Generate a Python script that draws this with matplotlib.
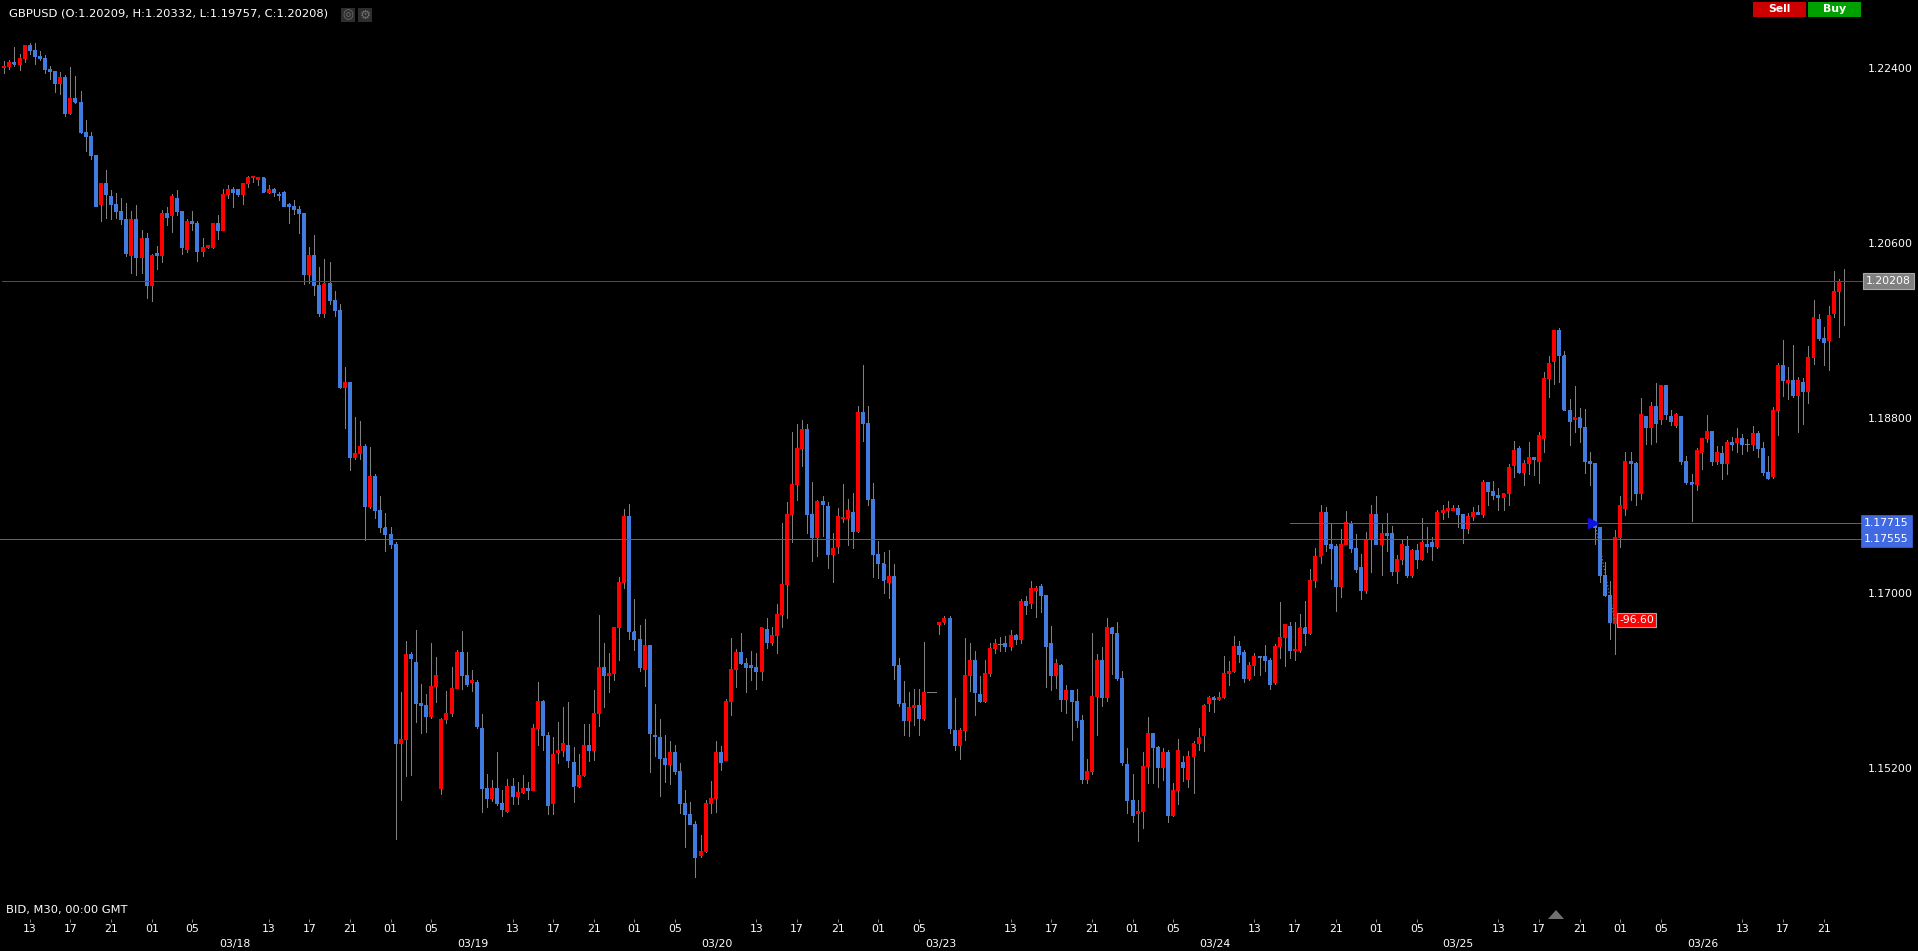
import matplotlib
matplotlib.use("Agg")
import matplotlib.pyplot as plt
import numpy as np
from matplotlib.patches import Rectangle, Polygon
from matplotlib.collections import PolyCollection

# OHLC of GBPUSD M30, in units of 1e-4
opens = [
12240,12242,12246,12244,12250,12263,12258,12252,12250,12238,
12236,12224,12230,12193,12209,12205,12174,12170,12150,12100,
12121,12108,12100,12092,12084,12047,12084,12045,12065,12016,
12049,12047,12090,12088,12106,12092,12053,12082,12080,12051,
12055,12055,12080,12073,12110,12115,12115,12110,12121,12127,
12125,12127,12112,12115,12110,12112,12100,12098,12094,12090,
12028,12047,12016,11987,12018,12001,11991,11911,11917,11839,
11843,11851,11789,11820,11785,11767,11760,11750,11545,11549,
11637,11629,11586,11584,11573,11604,11499,11570,11576,11602,
11639,11615,11608,11608,11561,11499,11489,11499,11483,11475,
11501,11491,11495,11499,11497,11561,11588,11553,11483,11536,
11538,11543,11526,11501,11512,11543,11538,11576,11623,11615,
11617,11664,11711,11779,11660,11652,11621,11646,11553,11551,
11530,11524,11536,11516,11483,11472,11462,11430,11434,11483,
11489,11536,11528,11588,11621,11639,11627,11625,11623,11619,
11662,11649,11656,11678,11709,11781,11812,11849,11868,11781,
11757,11794,11789,11740,11748,11777,11777,11783,11763,11886,
11874,11796,11740,11730,11711,11717,11625,11586,11569,11582,
11584,11571,11598,11598,11668,11670,11674,11559,11543,11559,
11615,11631,11596,11588,11617,11643,11648,11648,11645,11656,
11652,11691,11689,11703,11707,11697,11648,11615,11625,11590,
11600,11588,11569,11508,11516,11594,11631,11592,11664,11658,
11612,11524,11487,11473,11475,11522,11555,11541,11520,11536,
11471,11497,11526,11508,11532,11545,11553,11586,11592,11590,
11592,11617,11619,11645,11639,11612,11625,11635,11635,11631,
11608,11645,11654,11666,11641,11641,11664,11658,11713,11738,
11783,11750,11748,11707,11750,11771,11746,11726,11703,11755,
11781,11750,11761,11761,11722,11734,11748,11718,11744,11734,
11750,11752,11748,11783,11785,11785,11787,11781,11766,11779,
11783,11781,11814,11804,11800,11798,11802,11831,11849,11824,
11833,11839,11835,11859,11921,11938,11970,11944,11888,11878,
11880,11870,11835,11833,11767,11718,11697,11669,11757,11787,
11835,11833,11802,11882,11870,11892,11878,11913,11882,11872,
11882,11835,11814,11812,11845,11859,11866,11835,11843,11833,
11855,11855,11859,11853,11853,11864,11849,11824,11820,11888,
11934,11917,11919,11903,11917,11907,11942,11981,11962,11960,
11987,12010,12020.9]

highs = [
12247,12248,12262,12254,12263,12266,12266,12257,12253,12242,
12237,12236,12233,12241,12232,12216,12187,12174,12150,12122,
12135,12115,12111,12106,12101,12093,12099,12073,12070,12049,
12057,12094,12097,12110,12115,12092,12085,12093,12083,12065,
12058,12080,12089,12116,12120,12118,12116,12121,12129,12128,
12128,12128,12120,12117,12112,12113,12101,12104,12098,12090,
12056,12068,12035,12044,12040,12011,11997,11932,11917,11881,
11877,11853,11850,11822,11800,11782,11768,11752,11598,11651,
11639,11662,11606,11596,11649,11634,11571,11599,11624,11641,
11661,11639,11621,11611,11576,11514,11508,11536,11497,11509,
11510,11506,11513,11506,11565,11608,11590,11557,11552,11567,
11583,11588,11542,11534,11565,11565,11600,11677,11649,11638,
11664,11716,11786,11792,11694,11667,11673,11646,11586,11570,
11554,11548,11544,11525,11497,11485,11465,11451,11487,11507,
11548,11543,11591,11654,11642,11659,11633,11640,11638,11664,
11674,11665,11689,11772,11794,11866,11874,11878,11874,11814,
11796,11800,11794,11762,11787,11812,11797,11803,11892,11934,
11892,11813,11753,11742,11744,11730,11633,11609,11598,11601,
11601,11650,11598,11598,11670,11676,11676,11592,11561,11654,
11649,11640,11615,11631,11649,11653,11655,11656,11662,11658,
11694,11697,11712,11707,11709,11697,11666,11632,11627,11605,
11600,11601,11574,11529,11659,11637,11644,11674,11664,11670,
11620,11541,11514,11487,11536,11572,11555,11543,11541,11538,
11505,11550,11532,11537,11548,11561,11586,11594,11594,11598,
11635,11630,11656,11651,11641,11629,11638,11635,11647,11633,
11648,11691,11668,11670,11670,11678,11692,11725,11746,11790,
11788,11772,11750,11766,11784,11774,11761,11740,11763,11790,
11800,11772,11782,11769,11739,11754,11759,11745,11750,11777,
11768,11758,11785,11791,11795,11791,11791,11781,11782,11788,
11791,11816,11814,11815,11808,11802,11833,11856,11851,11837,
11855,11839,11866,11927,11944,11970,11973,11949,11900,11913,
11890,11889,11845,11833,11767,11732,11712,11765,11800,11845,
11845,11835,11901,11882,11896,11916,11913,11913,11888,11885,
11882,11841,11822,11849,11859,11883,11866,11851,11851,11857,
11860,11870,11864,11858,11872,11867,11855,11841,11891,11937,
11960,11932,11955,11922,11921,11954,12001,11987,11974,11995,
12031,12023,12033.2]

lows = [
12235,12239,12242,12238,12246,12254,12244,12248,12235,12229,
12215,12213,12191,12193,12204,12173,12155,12146,12098,12083,
12086,12085,12086,12080,12047,12029,12027,12029,12003,12000,
12033,12040,12078,12071,12089,12049,12051,12073,12041,12047,
12055,12055,12064,12073,12106,12097,12108,12100,12118,12123,
12120,12112,12111,12108,12104,12098,12081,12090,12070,12018,
12019,12007,11985,11984,11997,11985,11911,11870,11826,11838,
11838,11755,11787,11777,11763,11743,11746,11447,11487,11512,
11513,11567,11556,11557,11571,11588,11493,11566,11573,11602,
11601,11604,11599,11561,11475,11480,11486,11482,11471,11475,
11483,11483,11494,11488,11497,11544,11539,11473,11473,11525,
11532,11521,11485,11500,11512,11527,11528,11563,11583,11598,
11611,11631,11705,11653,11641,11620,11604,11516,11532,11491,
11506,11504,11514,11474,11439,11462,11408,11428,11434,11474,
11475,11518,11528,11575,11603,11627,11598,11611,11601,11611,
11643,11646,11638,11665,11674,11752,11796,11831,11762,11733,
11738,11759,11726,11711,11741,11773,11749,11746,11763,11856,
11790,11716,11715,11700,11695,11612,11584,11554,11553,11564,
11554,11569,11598,11598,11658,11668,11556,11539,11529,11549,
11599,11574,11588,11588,11615,11638,11640,11640,11641,11648,
11649,11678,11685,11675,11680,11603,11600,11602,11579,11577,
11549,11562,11505,11505,11514,11554,11584,11589,11617,11611,
11523,11474,11464,11445,11458,11505,11505,11500,11508,11464,
11471,11483,11507,11500,11494,11539,11537,11579,11578,11590,
11592,11605,11619,11629,11608,11610,11616,11616,11620,11601,
11606,11633,11625,11633,11631,11639,11647,11658,11706,11731,
11743,11714,11681,11696,11750,11742,11722,11694,11700,11722,
11750,11719,11743,11719,11710,11730,11716,11716,11726,11734,
11742,11734,11746,11776,11778,11785,11768,11751,11762,11775,
11781,11778,11791,11797,11785,11785,11791,11819,11823,11811,
11822,11821,11813,11845,11902,11915,11917,11888,11852,11866,
11855,11823,11811,11750,11711,11697,11653,11637,11747,11780,
11796,11791,11797,11853,11853,11855,11874,11879,11873,11871,
11833,11812,11774,11806,11828,11855,11832,11833,11817,11822,
11847,11845,11843,11846,11847,11840,11821,11817,11818,11862,
11903,11900,11902,11866,11874,11895,11936,11960,11935,11929,
11984,11963,11975.7]

closes = [
12242,12246,12244,12250,12263,12258,12252,12250,12238,12236,
12224,12230,12193,12209,12205,12174,12170,12150,12098,12121,
12110,12100,12092,12084,12049,12084,12045,12065,12016,12047,
12047,12090,12086,12108,12092,12055,12082,12080,12051,12055,
12057,12080,12073,12110,12115,12112,12110,12121,12127,12128,
12127,12112,12115,12112,12109,12098,12098,12094,12090,12028,
12047,12016,11987,12018,12001,11991,11911,11917,11839,11843,
11851,11789,11820,11785,11767,11760,11750,11545,11549,11637,
11633,11586,11584,11573,11604,11615,11570,11576,11602,11639,
11615,11606,11610,11563,11499,11489,11499,11483,11477,11501,
11491,11495,11499,11497,11561,11588,11553,11481,11534,11538,
11545,11528,11501,11512,11543,11538,11576,11623,11615,11617,
11664,11711,11779,11660,11652,11623,11646,11555,11552,11530,
11524,11536,11516,11483,11472,11462,11428,11434,11483,11489,
11536,11526,11588,11621,11639,11627,11623,11623,11619,11664,
11649,11656,11678,11709,11781,11812,11849,11868,11781,11757,
11794,11791,11740,11746,11779,11778,11785,11763,11886,11874,
11796,11740,11730,11713,11717,11625,11586,11569,11582,11584,
11571,11598,11598,11598,11670,11674,11561,11543,11559,11615,
11631,11598,11588,11617,11643,11648,11648,11645,11656,11652,
11691,11687,11705,11705,11697,11645,11615,11627,11590,11600,
11588,11569,11508,11516,11594,11631,11592,11664,11658,11612,
11526,11487,11471,11475,11522,11555,11541,11520,11536,11471,
11497,11538,11520,11532,11545,11551,11584,11592,11590,11592,
11617,11619,11645,11637,11612,11625,11635,11634,11631,11606,
11645,11654,11668,11641,11642,11664,11658,11713,11738,11783,
11750,11746,11707,11750,11773,11746,11724,11703,11755,11781,
11750,11761,11759,11722,11734,11750,11718,11744,11734,11752,
11748,11748,11783,11785,11787,11787,11781,11766,11779,11783,
11781,11814,11804,11800,11798,11802,11829,11847,11824,11833,
11839,11837,11862,11921,11936,11970,11944,11888,11876,11880,
11870,11835,11833,11767,11718,11697,11670,11757,11790,11835,
11833,11802,11884,11870,11892,11874,11913,11884,11876,11884,
11835,11814,11812,11847,11859,11866,11835,11845,11833,11855,
11853,11859,11853,11853,11864,11849,11824,11818,11888,11934,
11919,11919,11903,11919,11907,11942,11983,11962,11958,11985,
12010,12020,12020.8]

hour_ticks = [5,13,21,29,37,52,60,68,76,84,100,108,116,124,132,148,156,164,172,180,
              198,206,214,222,230,246,254,262,270,278,294,302,310,318,326,342,350,358]
hour_labels = ["13","17","21","01","05","13","17","21","01","05","13","17","21","01","05",
               "13","17","21","01","05","13","17","21","01","05","13","17","21","01","05",
               "13","17","21","01","05","13","17","21"]
date_ticks = [45.3,92.2,140.3,184.3,238.3,286,334.3]
date_labels = ["03/18","03/19","03/20","03/23","03/24","03/25","03/26"]
price_ticks = [1.152,1.170,1.188,1.206,1.224]
bid_line = 1.20208
order_lines = [1.17555,1.17715]

W,H = 1918,951
BG="#000000"; RED="#FF0000"; BLUE="#417BE0"; WICK="#808080"; LINE_BLUE="#3A62D8"; FG="#FFFFFF"
FONT=7.8
plt.rcParams['font.family']=['DejaVu Sans']

O,Hi,Lo,C = [np.array(a)/1e4 for a in (opens,highs,lows,closes)]
idx = np.arange(len(O))

fig = plt.figure(figsize=(W/100,H/100),dpi=100,facecolor=BG)
ax = fig.add_axes([0,1-919/H,1863/W,919/H],facecolor=BG)
for s in ax.spines.values(): s.set_visible(False)
ax.set_xlim(-0.852,365.74)
ax.set_ylim(1.136467,1.230994)

ax.vlines(idx,Lo,Hi,color=WICK,lw=0.72,zorder=2,antialiased=False,snap=True)

def bodies(mask,color):
    half = 1.5/5.082
    verts = [[(i-half,b),(i+half,b),(i+half,t),(i-half,t)]
             for i,b,t in zip(idx[mask],np.minimum(O,C)[mask],np.maximum(O,C)[mask])]
    ax.add_collection(PolyCollection(verts,facecolors=color,edgecolors='none',linewidths=0,
                                     antialiaseds=False,zorder=3,snap=False))
bodies(C>O,RED)
bodies(C<O,BLUE)
flat = C==O
ax.hlines(C[flat],idx[flat]-0.4,idx[flat]+0.4,color=WICK,lw=0.72,zorder=3,antialiased=False,snap=True)

ax.set_xticks(hour_ticks); ax.set_xticklabels(hour_labels)
ax.set_xticks(date_ticks,minor=True); ax.set_xticklabels(date_labels,minor=True)
ax.tick_params(axis='x',which='major',length=2.2,width=0.7,color='#808080',labelcolor=FG,labelsize=FONT,pad=1.5)
ax.tick_params(axis='x',which='minor',length=0,labelcolor=FG,labelsize=FONT,pad=14.5)
ax.yaxis.tick_right()
ax.set_yticks(price_ticks); ax.set_yticklabels([f"{p:.5f}" for p in price_ticks])
ax.tick_params(axis='y',length=0,labelcolor=FG,labelsize=FONT,pad=3.6)

# horizontal lines
ax.hlines(bid_line,-0.46,365.74,color="#E01010",lw=0.72,zorder=5,antialiased=False,snap=True)
ax.hlines(order_lines[0],-0.852,365.74,color=LINE_BLUE,lw=0.72,zorder=5,antialiased=False,snap=True)
ax.hlines(order_lines[1],253,365.74,color=LINE_BLUE,lw=0.72,zorder=5,antialiased=False,snap=True)

# badges on the price scale
ytr = ax.get_yaxis_transform()
ax.text(1.0+3/1863,bid_line,f"{bid_line:.5f}",transform=ytr,va='center',ha='left',color=FG,fontsize=FONT,clip_on=False,
        bbox=dict(boxstyle='square,pad=0.3',fc='#808080',ec='#A8A8A8',lw=0.8))
for p in order_lines:
    ax.text(1.0+1/1863,p,f"{p:.5f}",transform=ytr,va='center',ha='left',color=FG,fontsize=FONT,clip_on=False,zorder=6,
            bbox=dict(boxstyle='square,pad=0.3',fc='#4169E1',ec='#4169E1',lw=0.5))

# trade markers
ax.plot([313,317],[order_lines[1],O[317]],ls=':',color=WICK,lw=0.9,zorder=4)
ax.plot([312.6],[order_lines[1]],marker='>',ms=7,color='#1010E0',ls='none',zorder=6)
ax.plot([317.1],[1.1672],marker='<',ms=5,color='#A03030',ls='none',zorder=6)
ax.text(317.75,1.16722,"-96.60",va='center',ha='left',color=FG,fontsize=FONT,zorder=7,
        bbox=dict(boxstyle='square,pad=0.2',fc=RED,ec='#A8A8A8',lw=0.8))

# helpers for the terminal interface elements, given in figure pixels
def rect(x0,y0,x1,y1,fc,ec='none'):
    fig.add_artist(Rectangle((x0/W,1-y1/H),(x1-x0)/W,(y1-y0)/H,transform=fig.transFigure,fc=fc,ec=ec,lw=0))
def label(x,y,s,**kw):
    kw.setdefault('color',FG); kw.setdefault('fontsize',FONT); kw.setdefault('va','center')
    fig.text(x/W,1-y/H,s,**kw)

label(9,14,"GBPUSD (O:1.20209, H:1.20332, L:1.19757, C:1.20208)",fontsize=8.25)
label(6,910,"BID, M30, 00:00 GMT",fontsize=8.25)
rect(341,8,355,22,'#2E2E2E'); rect(358,8,372,22,'#2E2E2E')
label(348,15,"\u25CE",ha='center',color='#707070',fontsize=9)
label(365,15,"\u2699",ha='center',color='#707070',fontsize=9)
rect(1753,2,1806,17,'#CC0000'); rect(1808,2,1861,17,'#00A000')
label(1779.5,9.5,"Sell",ha='center',fontweight='bold')
label(1834.5,9.5,"Buy",ha='center',fontweight='bold')
fig.add_artist(Polygon([[(1548)/W,1-919/H],[(1564)/W,1-919/H],[1556/W,1-910/H]],closed=True,transform=fig.transFigure,fc='#707070',ec='none'))

fig.savefig("out.png",dpi=100,facecolor=BG)
